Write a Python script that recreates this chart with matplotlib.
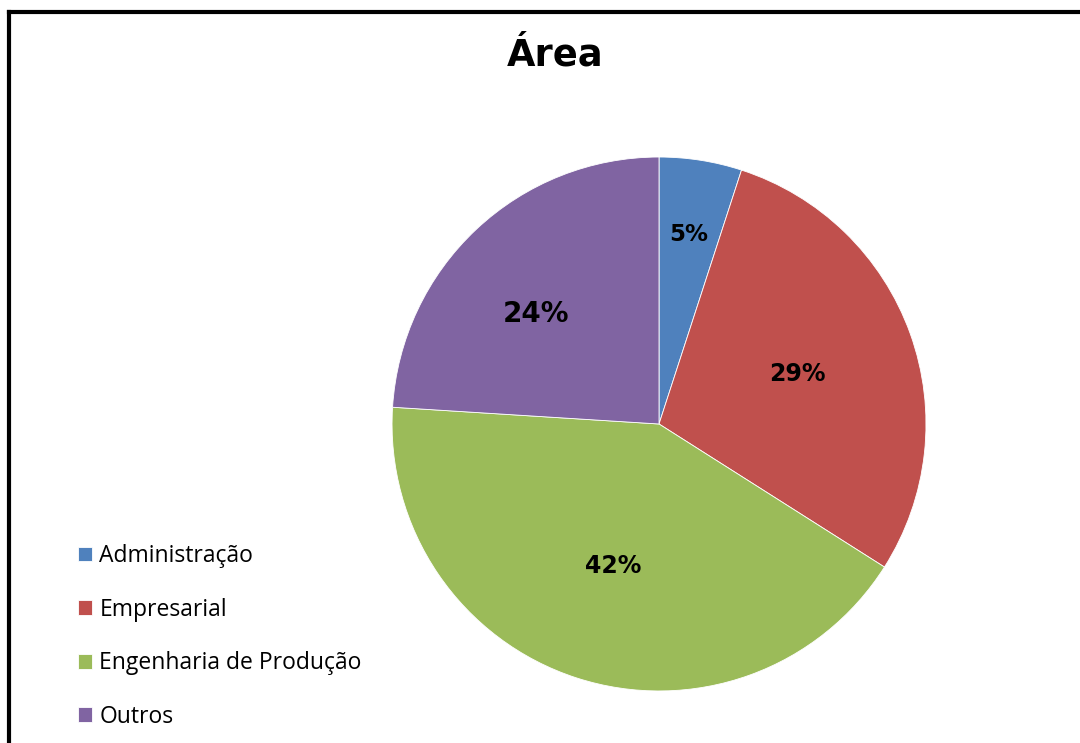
import matplotlib.pyplot as plt
from matplotlib.lines import Line2D
import numpy as np

plt.rcParams['font.family'] = ['Open Sans', 'DejaVu Sans']

areas = ['Administração', 'Empresarial', 'Engenharia de Produção', 'Outros']
shares = [5, 29, 42, 24]
colors = ['#4F81BD', '#C0504D', '#9BBB59', '#8064A2']

# where each percentage sits inside its slice (radius, angle nudge in deg), and how big
label_r = [0.72, 0.55, 0.56, 0.62]
label_nudge = [0, 0, 0, 5]
label_size = [16.5, 17, 17, 20]

fig = plt.figure(figsize=(10.8, 7.43), dpi=100)

# frame: only top and left edges show
fig.add_artist(Line2D([0.0079, 1.0], [0.9832, 0.9832], transform=fig.transFigure,
                      color='black', linewidth=3))
fig.add_artist(Line2D([0.0079, 0.0079], [0.0, 0.9832], transform=fig.transFigure,
                      color='black', linewidth=3))

ax = fig.add_axes([0.363, 0.070, 0.4944, 0.7187])
wedges, _ = ax.pie(shares, colors=colors, startangle=90, counterclock=False,
                   radius=1.0, wedgeprops=dict(edgecolor='white', linewidth=0.6))
ax.set_xlim(-1, 1)
ax.set_ylim(-1, 1)
ax.set_aspect('equal')
ax.axis('off')

for w, v, r, d, s in zip(wedges, shares, label_r, label_nudge, label_size):
    ang = np.deg2rad((w.theta1 + w.theta2) / 2 + d)
    ax.text(r * np.cos(ang), r * np.sin(ang), f'{v}%', ha='center', va='center',
            fontsize=s, fontweight='bold', color='black', family='DejaVu Sans')

fig.text(0.514, 0.926, 'Área', ha='center', va='center', fontsize=26.5,
         fontweight='bold', family='DejaVu Sans')

fig.legend(wedges, areas, loc='upper left', bbox_to_anchor=(0.064, 0.280),
           frameon=False, fontsize=16.5, handlelength=0.62, handleheight=0.62,
           handletextpad=0.3, labelspacing=1.29, borderaxespad=0)

fig.savefig('out.png', dpi=100)
